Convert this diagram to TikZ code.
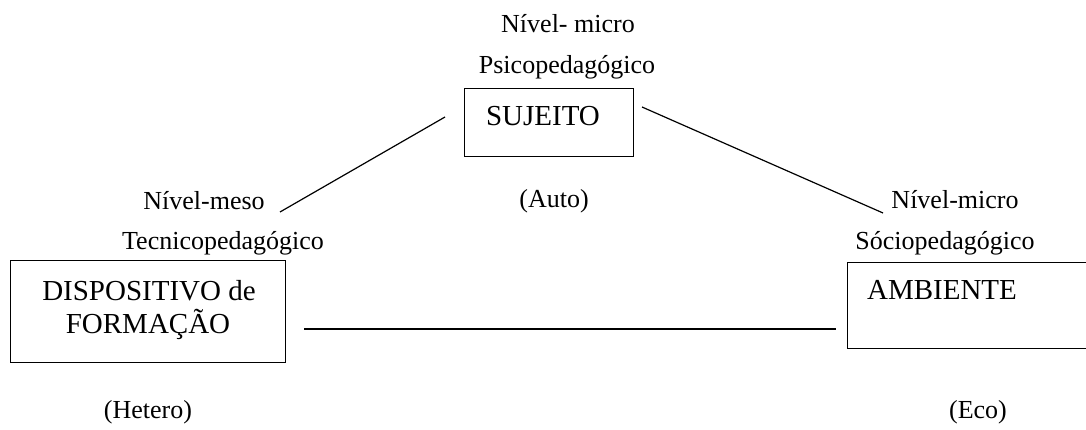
\documentclass[tikz,border=0pt]{standalone}
\usepackage{fontspec}
\setmainfont{Liberation Serif}
\begin{document}
\begin{tikzpicture}[x=1pt,y=-1pt,
  lbl/.style={anchor=base,inner sep=0pt,font=\fontsize{26}{30}\selectfont},
  btxt/.style={anchor=base,inner sep=0pt,font=\fontsize{29}{33}\selectfont},
  boxshape/.style={draw,line width=1.2pt,rectangle,inner sep=0pt,anchor=north west},
  conn/.style={line width=1.2pt}]
\useasboundingbox (0,0) rectangle (1086,430);
\clip (0,0) rectangle (1086,430);
% labels
\node[lbl] (nmicro) at (568,33) {Nível- micro};
\node[lbl] (psico) at (567,74) {Psicopedagógico};
\node[lbl] (auto) at (554,208) {(Auto)};
\node[lbl] (nmeso) at (204,210) {Nível-meso};
\node[lbl] (tecn) at (223,250) {Tecnicopedagógico};
\node[lbl] (nmicro2) at (955,209) {Nível-micro};
\node[lbl] (socio) at (945,250) {Sóciopedagógico};
\node[lbl] (hetero) at (148,418) {(Hetero)};
\node[lbl] (eco) at (978,418) {(Eco)};
% boxes
\node[boxshape,minimum width=169pt,minimum height=68pt] (sbox) at (464,88) {};
\node[btxt] (suj) at (543,126) {SUJEITO};
\node[boxshape,minimum width=275pt,minimum height=102pt] (dbox) at (10,260) {};
\node[btxt] (disp1) at (149,300) {DISPOSITIVO de};
\node[btxt] (disp2) at (148,333) {FORMAÇÃO};
\node[boxshape,minimum width=270pt,minimum height=86pt] (abox) at (847,262) {};
\node[btxt] (amb) at (942,299) {AMBIENTE};
% connectors
\coordinate (l1) at (445,117);
\coordinate (l2) at (280,212);
\coordinate (r1) at (642,107);
\coordinate (r2) at (883,213);
\coordinate (h1) at (304,329);
\coordinate (h2) at (836,329);
\draw[conn] (l1) -- (l2);
\draw[conn] (r1) -- (r2);
\draw[conn] (h1) -- (h2);
\end{tikzpicture}
\end{document}
